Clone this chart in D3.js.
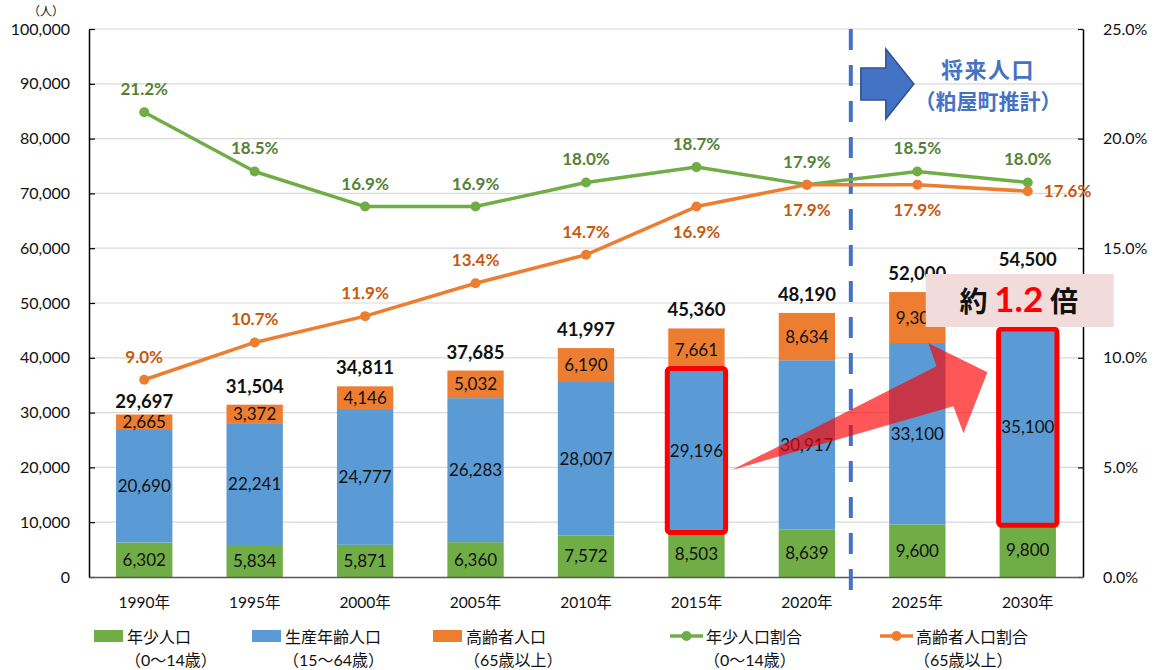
<!DOCTYPE html>
<html>
<head>
<meta charset="utf-8">
<script src="https://cdn.jsdelivr.net/npm/d3@7"></script>
<style>
  body { margin: 0; background: #fff; }
  text { font-family: Lato, "Noto Sans CJK JP", sans-serif; }
</style>
</head>
<body>
<div id="content"></div>
<script>
const years = ["1990", "1995", "2000", "2005", "2010", "2015", "2020", "2025", "2030"]
const young = [6302, 5834, 5871, 6360, 7572, 8503, 8639, 9600, 9800]
const working = [20690, 22241, 24777, 26283, 28007, 29196, 30917, 33100, 35100]
const elderly = [2665, 3372, 4146, 5032, 6190, 7661, 8634, 9300, 9600]
const totals = [29697, 31504, 34811, 37685, 41997, 45360, 48190, 52000, 54500]
const youngRate = [21.2, 18.5, 16.9, 16.9, 18.0, 18.7, 17.9, 18.5, 18.0]
const elderlyRate = [9.0, 10.7, 11.9, 13.4, 14.7, 16.9, 17.9, 17.9, 17.6]
const elderlyLabelPlace = ["above", "above", "above", "above", "above", "below", "below", "below", "right"]
const leftTicks = [0, 10000, 20000, 30000, 40000, 50000, 60000, 70000, 80000, 90000, 100000]
const rightTicks = [0, 5, 10, 15, 20, 25]

const colors = {young: "#70AD47", working: "#5B9BD5", elderly: "#ED7D31"}

const margin = {top: 29, right: 71, bottom: 93, left: 89}
const outerWidth = 1154
const outerHeight = 670
const width = outerWidth - margin.left - margin.right
const height = outerHeight - margin.top - margin.bottom

const svg = d3.select("#content").append("svg")
    .attr("width", outerWidth)
    .attr("height", outerHeight)

const wrapper = svg.append("g")
    .attr("transform", `translate(${margin.left}, ${margin.top})`)

// scales
const xScale = d3.scaleBand()
    .domain(years)
    .range([0, width])
    .paddingInner(0.49)
    .paddingOuter(0.245)
const xc = d => xScale(d) + xScale.bandwidth() / 2
const yScale = d3.scaleLinear().domain([0, 100000]).range([height, 0])
const y2Scale = d3.scaleLinear().domain([0, 25]).range([height, 0])

// gridlines
wrapper.append("g").selectAll("line")
    .data(leftTicks.slice(1))
    .join("line")
    .attr("x1", 0).attr("x2", width)
    .attr("y1", d => yScale(d)).attr("y2", d => yScale(d))
    .attr("stroke", "#d9d9d9")
    .attr("stroke-width", 1.2)

// stacked bars
const rows = years.map((yr, i) => ({year: yr, young: young[i], working: working[i], elderly: elderly[i]}))
const stack = d3.stack().keys(["young", "working", "elderly"])(rows)

const layers = wrapper.append("g").selectAll("g")
    .data(stack)
    .join("g")
    .attr("fill", d => colors[d.key])

layers.selectAll("rect")
    .data(d => d)
    .join("rect")
    .attr("x", d => xScale(d.data.year))
    .attr("width", xScale.bandwidth())
    .attr("y", d => yScale(d[1]))
    .attr("height", d => yScale(d[0]) - yScale(d[1]))

// segment labels (2030 elderly label sits under the ratio box, so it is not shown)
layers.selectAll("text")
    .data(d => d.filter(s => !(d.key === "elderly" && s.data.year === "2030")))
    .join("text")
    .attr("x", d => xc(d.data.year))
    .attr("y", d => (yScale(d[0]) + yScale(d[1])) / 2)
    .attr("dy", "0.36em")
    .attr("text-anchor", "middle")
    .attr("fill", "#111")
    .style("font-size", "17px")
    .text(d => d3.format(",")(d[1] - d[0]))

// totals
wrapper.append("g").selectAll("text")
    .data(years)
    .join("text")
    .attr("x", d => xc(d))
    .attr("y", (d, i) => yScale(young[i] + working[i] + elderly[i]) - (i === 0 ? 6 : 12))
    .attr("text-anchor", "middle")
    .attr("fill", "#111")
    .style("font-size", "18.5px")
    .style("font-weight", "700")
    .text((d, i) => d3.format(",")(totals[i]))

// axes
const yAxis = d3.axisLeft(yScale)
    .tickValues(leftTicks)
    .tickFormat(d3.format(","))
    .tickSizeInner(-6)
    .tickSizeOuter(0)
    .tickPadding(19)
const gy = wrapper.append("g").call(yAxis)
gy.select(".domain").attr("stroke", "#000").attr("stroke-width", 1.5)
gy.selectAll(".tick line").attr("stroke", "#000").attr("stroke-width", 1.2)
gy.selectAll("text").style("font-size", "16px").attr("fill", "#111").attr("font-family", null)

const y2Axis = d3.axisRight(y2Scale)
    .tickValues(rightTicks)
    .tickFormat(d => d.toFixed(1) + "%")
    .tickSizeInner(-5)
    .tickSizeOuter(0)
    .tickPadding(20)
const gy2 = wrapper.append("g")
    .attr("transform", `translate(${width}, 0)`)
    .call(y2Axis)
gy2.select(".domain").attr("stroke", "#000").attr("stroke-width", 1.5)
gy2.selectAll(".tick line").attr("stroke", "#000").attr("stroke-width", 1.2)
gy2.selectAll("text").style("font-size", "16px").attr("fill", "#111").attr("font-family", null)

const xAxis = d3.axisBottom(xScale)
    .tickFormat(d => d + "年")
    .tickSize(0)
    .tickPadding(20)
const gx = wrapper.append("g")
    .attr("transform", `translate(0, ${height})`)
    .call(xAxis)
gx.select(".domain").attr("stroke", "#595959").attr("stroke-width", 1.5)
gx.selectAll("text").style("font-size", "15.5px").attr("fill", "#111").attr("font-family", null)

svg.append("text")
    .attr("x", 46).attr("y", 16)
    .attr("text-anchor", "middle")
    .attr("fill", "#111")
    .style("font-size", "12px")
    .text("（人）")

// future divider
const divX = xc("2020") + xScale.bandwidth() * 0.78
wrapper.append("line")
    .attr("x1", divX).attr("x2", divX)
    .attr("y1", 0).attr("y2", height + 28)
    .attr("stroke", "#4472C4")
    .attr("stroke-width", 4)
    .attr("stroke-dasharray", "21,15")

// block arrow + future label
const bx = divX + 10, by = 84
wrapper.append("path")
    .attr("transform", `translate(${bx}, ${by - margin.top})`)
    .attr("d", "M0,-16 L25,-16 L25,-35 L53,0 L25,35 L25,16 L0,16 Z")
    .attr("fill", "#4472C4")
    .attr("stroke", "#2F528F")
    .attr("stroke-width", 1.5)

const futureText = wrapper.append("text")
    .attr("text-anchor", "middle")
    .attr("fill", "#4472C4")
    .style("font-weight", "700")
futureText.append("tspan")
    .attr("x", 988 - margin.left).attr("y", 78 - margin.top)
    .style("font-size", "22px")
    .style("letter-spacing", "1.5px")
    .text("将来人口")
futureText.append("tspan")
    .attr("x", 988 - margin.left).attr("y", 109 - margin.top)
    .style("font-size", "21px")
    .text("（粕屋町推計）")

// lines
const rateLine = d3.line().x((d, i) => xc(years[i])).y(d => y2Scale(d))

function drawSeries(values, color, labelColor, places) {
    wrapper.append("path")
        .datum(values)
        .attr("fill", "none")
        .attr("stroke", color)
        .attr("stroke-width", 3.5)
        .attr("stroke-linejoin", "round")
        .attr("d", rateLine)
    wrapper.append("g").selectAll("circle")
        .data(values)
        .join("circle")
        .attr("cx", (d, i) => xc(years[i]))
        .attr("cy", d => y2Scale(d))
        .attr("r", 5)
        .attr("fill", color)
    wrapper.append("g").selectAll("text")
        .data(values)
        .join("text")
        .attr("x", (d, i) => places[i] === "right" ? xc(years[i]) + 16 : xc(years[i]))
        .attr("y", (d, i) => y2Scale(d) + (places[i] === "above" ? -17 : places[i] === "below" ? 31 : 6))
        .attr("text-anchor", (d, i) => places[i] === "right" ? "start" : "middle")
        .attr("fill", labelColor)
        .style("font-size", "17px")
        .style("font-weight", "700")
        .text(d => d.toFixed(1) + "%")
}
drawSeries(youngRate, colors.young, "#548235", years.map(() => "above"))
drawSeries(elderlyRate, colors.elderly, "#C55A11", elderlyLabelPlace)

// highlight boxes around the working-age segment
const highlight = ["2015", "2030"]
wrapper.append("g").selectAll("rect")
    .data(highlight)
    .join("rect")
    .attr("x", d => xScale(d) - 1)
    .attr("width", xScale.bandwidth() + 2)
    .attr("y", d => { const i = years.indexOf(d); return yScale(young[i] + working[i]) - 2 })
    .attr("height", d => { const i = years.indexOf(d); return yScale(young[i]) - yScale(young[i] + working[i]) + 4 })
    .attr("rx", 3)
    .attr("fill", "none")
    .attr("stroke", "#FF0000")
    .attr("stroke-width", 5)

// big red arrow
const tx = xc("2015") + 35, ty = yScale(19500)
const arrowPts = [[0, 0], [205, -104], [197, -127], [256, -98], [232, -37], [222, -64]]
wrapper.append("polygon")
    .attr("points", arrowPts.map(p => [tx + p[0], ty + p[1]].join(",")).join(" "))
    .attr("fill", "#FF0000")
    .attr("fill-opacity", 0.66)

// "約1.2倍" box
const boxCx = xc("2030") - 8, boxTop = 274 - margin.top
wrapper.append("rect")
    .attr("x", boxCx - 94).attr("y", boxTop)
    .attr("width", 188).attr("height", 53)
    .attr("fill", "#F2DCDB")
const ratioText = wrapper.append("text")
    .attr("x", boxCx - 1).attr("y", boxTop + 38)
    .attr("text-anchor", "middle")
    .style("font-size", "28px")
    .style("font-weight", "700")
    .attr("fill", "#111")
ratioText.append("tspan").text("約 ")
ratioText.append("tspan").attr("fill", "#FF0000").style("font-size", "35px").text("1.2")
ratioText.append("tspan").text(" 倍")

// legend
const legendItems = [
    {name: "年少人口", sub: "（0～14歳）", color: colors.young, type: "rect", x: 94},
    {name: "生産年齢人口", sub: "（15～64歳）", color: colors.working, type: "rect", x: 252},
    {name: "高齢者人口", sub: "（65歳以上）", color: colors.elderly, type: "rect", x: 433},
    {name: "年少人口割合", sub: "（0～14歳）", color: colors.young, type: "line", x: 670},
    {name: "高齢者人口割合", sub: "（65歳以上）", color: colors.elderly, type: "line", x: 880},
]
const legend = svg.append("g").selectAll("g")
    .data(legendItems)
    .join("g")
    .attr("transform", d => `translate(${d.x}, 636)`)

legend.filter(d => d.type === "rect").append("rect")
    .attr("x", 0).attr("y", -6)
    .attr("width", 29).attr("height", 12)
    .attr("fill", d => d.color)
legend.filter(d => d.type === "line").append("line")
    .attr("x1", 0).attr("x2", 33)
    .attr("stroke", d => d.color)
    .attr("stroke-width", 3.5)
legend.filter(d => d.type === "line").append("circle")
    .attr("cx", 16.5).attr("r", 5)
    .attr("fill", d => d.color)
legend.append("text")
    .attr("x", d => d.type === "rect" ? 33 : 36)
    .attr("y", 7)
    .attr("fill", "#111")
    .style("font-size", "16px")
    .text(d => d.name)
legend.append("text")
    .attr("x", d => d.type === "rect" ? 31 : 34)
    .attr("y", 30)
    .attr("fill", "#111")
    .style("font-size", "16px")
    .text(d => d.sub)
</script>
</body>
</html>
